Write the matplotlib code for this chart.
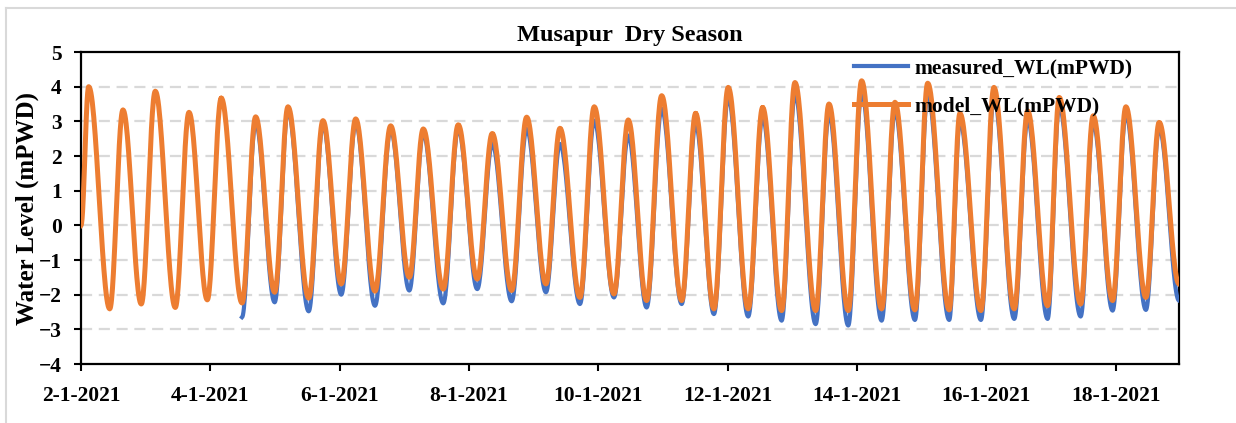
import numpy as np
import matplotlib
matplotlib.use('Agg')
import matplotlib.pyplot as plt
from matplotlib.lines import Line2D

plt.rcParams['font.family'] = ['Liberation Serif', 'DejaVu Serif']
plt.rcParams['font.weight'] = 'bold'

# Times of high / low water (days after 2-1-2021 00:00)
extreme_day = [0.00, 0.119, 0.444, 0.649, 0.932, 1.149, 1.458, 1.670, 1.953, 2.169,
               2.490, 2.701, 2.995, 3.201, 3.521, 3.742, 4.025, 4.248, 4.546, 4.789,
               5.077, 5.293, 5.602, 5.834, 6.128, 6.360, 6.660, 6.892, 7.190, 7.407,
               7.716, 7.937, 8.242, 8.463, 8.747, 8.980, 9.289, 9.505, 9.788, 10.009,
               10.318, 10.541, 10.835, 11.041, 11.361, 11.567, 11.865, 12.072, 12.381, 12.587,
               12.896, 13.094, 13.426, 13.592, 13.917, 14.118, 14.432, 14.639, 14.948, 15.128,
               15.459, 15.653, 15.953, 16.159, 16.468, 16.674, 16.98]

# model water level at those times (mPWD)
model_wl = [0.0, 4.00, -2.41, 3.33, -2.27, 3.87, -2.37, 3.26, -2.15, 3.67,
            -2.24, 3.13, -1.93, 3.42, -2.10, 3.02, -1.69, 3.07, -1.90, 2.87,
            -1.50, 2.78, -1.84, 2.90, -1.55, 2.65, -1.88, 3.12, -1.69, 2.80,
            -2.08, 3.42, -1.98, 3.04, -2.17, 3.74, -2.17, 3.23, -2.41, 3.98,
            -2.41, 3.40, -2.46, 4.12, -2.46, 3.50, -2.46, 4.17, -2.41, 3.55,
            -2.44, 4.10, -2.44, 3.23, -2.46, 3.98, -2.41, 3.30, -2.32, 3.69,
            -2.27, 3.16, -2.17, 3.42, -2.08, 2.97, -1.69]

# measured water level (record starts on 4-1-2021 afternoon)
measured_wl = [np.nan] * 10 + [
            -2.65, 2.95, -2.22, 3.30, -2.48, 2.90, -2.00, 2.95, -2.32, 2.75,
            -1.88, 2.65, -2.25, 2.78, -1.84, 2.35, -2.19, 2.78, -1.93, 2.35,
            -2.27, 3.02, -2.08, 2.59, -2.37, 3.36, -2.27, 2.92, -2.56, 3.69,
            -2.63, 3.12, -2.75, 3.79, -2.85, 3.21, -2.89, 3.85, -2.75, 3.30,
            -2.73, 3.79, -2.73, 3.00, -2.73, 3.70, -2.70, 3.05, -2.70, 3.45,
            -2.63, 2.95, -2.46, 3.20, -2.44, 2.80, -2.17]

tick_days = [0, 2, 4, 6, 8, 10, 12, 14, 16]
tick_labels = ['2-1-2021', '4-1-2021', '6-1-2021', '8-1-2021', '10-1-2021',
               '12-1-2021', '14-1-2021', '16-1-2021', '18-1-2021']


def tide_curve(days, levels, n=30):
    # smooth half-cosine between successive high and low waters
    days = np.asarray(days, float)
    levels = np.asarray(levels, float)
    xs, ys = [], []
    for i in range(len(days) - 1):
        if np.isnan(levels[i]) or np.isnan(levels[i + 1]):
            continue
        s = np.linspace(0, 1, n)
        xs.append(days[i] + s * (days[i + 1] - days[i]))
        ys.append(levels[i] + (levels[i + 1] - levels[i]) * (1 - np.cos(np.pi * s)) / 2)
    return np.concatenate(xs), np.concatenate(ys)


fig = plt.figure(figsize=(12.36, 4.23), dpi=100)
ax = fig.add_axes([81 / 1236, 1 - 364 / 423, (1179 - 81) / 1236, (364 - 52) / 423])

# light frame of the chart area
fig.add_artist(Line2D([6 / 1236, 6 / 1236], [0, 1 - 8 / 423], transform=fig.transFigure,
                      color='#d9d9d9', lw=1.5))
fig.add_artist(Line2D([6 / 1236, 1], [1 - 8 / 423, 1 - 8 / 423], transform=fig.transFigure,
                      color='#d9d9d9', lw=1.5))

mx, my = tide_curve(extreme_day, measured_wl)
ox, oy = tide_curve(extreme_day, model_wl)
ax.plot(mx, my, color='#4472C4', lw=3.0, label='measured_WL(mPWD)', zorder=3)
ax.plot(ox, oy, color='#ED7D31', lw=3.6, label='model_WL(mPWD)', zorder=4)

ax.set_xlim(0, 16.98)
ax.set_ylim(-4, 5)
ax.set_yticks(range(-4, 6))
ax.set_xticks(tick_days)
ax.set_xticklabels(tick_labels)
ax.tick_params(labelsize=15.5, width=1.5, length=5, direction='out')
ax.tick_params(axis='x', pad=11)
ax.tick_params(axis='y', pad=9)
for sp in ax.spines.values():
    sp.set_linewidth(1.6)
for v in range(-3, 5):
    ax.axhline(v, color='#d9d9d9', lw=1.6, ls=(0, (5, 3)), zorder=1)

ax.set_ylabel('Water Level (mPWD)', fontsize=18, fontweight='bold', labelpad=0)
ax.set_title('Musapur  Dry Season', fontsize=17.5, fontweight='bold', pad=8)

ax.legend(loc='upper left', bbox_to_anchor=(854 / 1236, 1 - 58 / 423),
          bbox_transform=fig.transFigure, frameon=False, fontsize=15.5,
          handlelength=2.5, handletextpad=0.3, labelspacing=0.85, borderpad=0,
          borderaxespad=0)

fig.savefig('out.png', dpi=100)
